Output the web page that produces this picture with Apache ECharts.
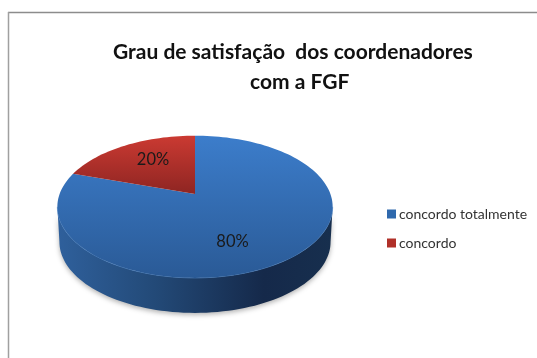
<!DOCTYPE html>
<html>
<head>
<meta charset="utf-8">
<style>html,body{margin:0;padding:0;background:#fff}#c{width:537px;height:358px}</style>
<script src="https://cdn.jsdelivr.net/npm/echarts@6/dist/echarts.min.js"></script>
</head>
<body>
<div id="c"></div>
<script>
var categories = ['concordo totalmente', 'concordo'];
var values = [80, 20];
var titleLines = ['Grau de satisfação  dos coordenadores', 'com a FGF'];
var topColors = [['#3c7dcb', '#2a5a96'], ['#cb3a32', '#8e2522']];
var legendColors = ['#2f69ad', '#b03029'];
var labelAt = [[232.5, 242], [153, 160]];

// Perspective view of the pie's top disc
var apex = [195, 194], A = 68.8, K = 0.18, B = 135.4, DEPTH = 35;
var total = values.reduce(function (a, b) { return a + b; }, 0);

function project(r, deg) {
  var t = deg * Math.PI / 180;
  var u = r * Math.sin(t), v = r * Math.cos(t), w = 1 + K * v;
  return [apex[0] + B * u / w, apex[1] - A * v / w];
}
function arc(from, to, r) {
  var pts = [], n = Math.ceil(Math.abs(to - from) / 2);
  for (var i = 0; i <= n; i++) pts.push(project(r === undefined ? 1 : r, from + (to - from) * i / n));
  return pts;
}
function sliceItem(index) {
  return function (params, api) {
    var before = 0;
    for (var i = 0; i < index; i++) before += values[i];
    var start = before / total * 360;
    var end = start + api.value(0) / total * 360;
    var pts = [apex].concat(arc(start, end));
    return {
      type: 'group',
      children: [{
        type: 'polygon',
        shape: { points: pts },
        style: {
          fill: new echarts.graphic.LinearGradient(0, 0, 0, 1, [
            { offset: 0, color: topColors[index][0] },
            { offset: 1, color: topColors[index][1] }
          ])
        },
        z2: 5
      }, {
        type: 'text',
        x: labelAt[index][0], y: labelAt[index][1],
        style: {
          text: api.value(0) + '%',
          font: '16.5px Lato, "Open Sans", sans-serif',
          fill: '#1a1a1a', align: 'center', verticalAlign: 'middle'
        },
        z2: 10
      }]
    };
  };
}
function wallItem() {
  // Side wall: rim of the disc from its widest points, dropped down by the depth
  var rim = arc(100.4, 259.6);
  var lower = rim.map(function (p) {
    return [195 + (p[0] - 195) * 0.985, p[1] + DEPTH];
  }).reverse();
  return {
    type: 'group',
    children: [{
      type: 'polygon',
      shape: { points: rim.concat(lower) },
      style: {
        fill: new echarts.graphic.LinearGradient(0, 0, 1, 0, [
          { offset: 0, color: '#2f609c' },
          { offset: 0.35, color: '#234a78' },
          { offset: 0.75, color: '#15294a' },
          { offset: 1, color: '#172f4e' }
        ]),
        shadowBlur: 5, shadowColor: 'rgba(0,0,0,0.3)', shadowOffsetY: 2
      },
      z2: 1
    }, {
      type: 'polyline',
      shape: { points: rim },
      style: { fill: null, stroke: '#4f86c6', lineWidth: 1, opacity: 0.7 },
      z2: 6
    }]
  };
}

var series = [{
  type: 'custom', name: 'wall', coordinateSystem: 'none',
  data: [[total]], renderItem: wallItem, silent: true, z: 1
}];
categories.forEach(function (name, i) {
  series.push({
    type: 'custom', name: name, coordinateSystem: 'none',
    data: [[values[i]]], renderItem: sliceItem(i), silent: true, z: 2,
    itemStyle: { color: legendColors[i] }
  });
});

var chart = echarts.init(document.getElementById('c'), null, { renderer: 'canvas' });
chart.setOption({
  animation: false,
  backgroundColor: '#fff',
  title: [
    { text: titleLines[0], left: 108, top: 37, textStyle: { fontFamily: 'Lato', fontSize: 21, fontWeight: 'bold', color: '#111' } },
    { text: titleLines[1], left: 245, top: 67, textStyle: { fontFamily: 'Lato', fontSize: 21, fontWeight: 'bold', color: '#111' } }
  ],
  legend: {
    orient: 'vertical', left: 382, top: 202,
    itemWidth: 9, itemHeight: 9, itemGap: 15,
    icon: 'rect',
    textStyle: { fontFamily: 'Lato', fontSize: 14, color: '#333', padding: [0, 0, 0, -2] },
    data: categories.map(function (n, i) { return { name: n, itemStyle: { color: legendColors[i] } }; })
  },
  graphic: [
    { type: 'line', shape: { x1: 8, y1: 12.5, x2: 537, y2: 12.5 }, style: { stroke: '#8c8c8c', lineWidth: 1.5 } },
    { type: 'line', shape: { x1: 8.5, y1: 12, x2: 8.5, y2: 358 }, style: { stroke: '#a0a0a0', lineWidth: 1.5 } }
  ],
  series: series
});
</script>
</body>
</html>
